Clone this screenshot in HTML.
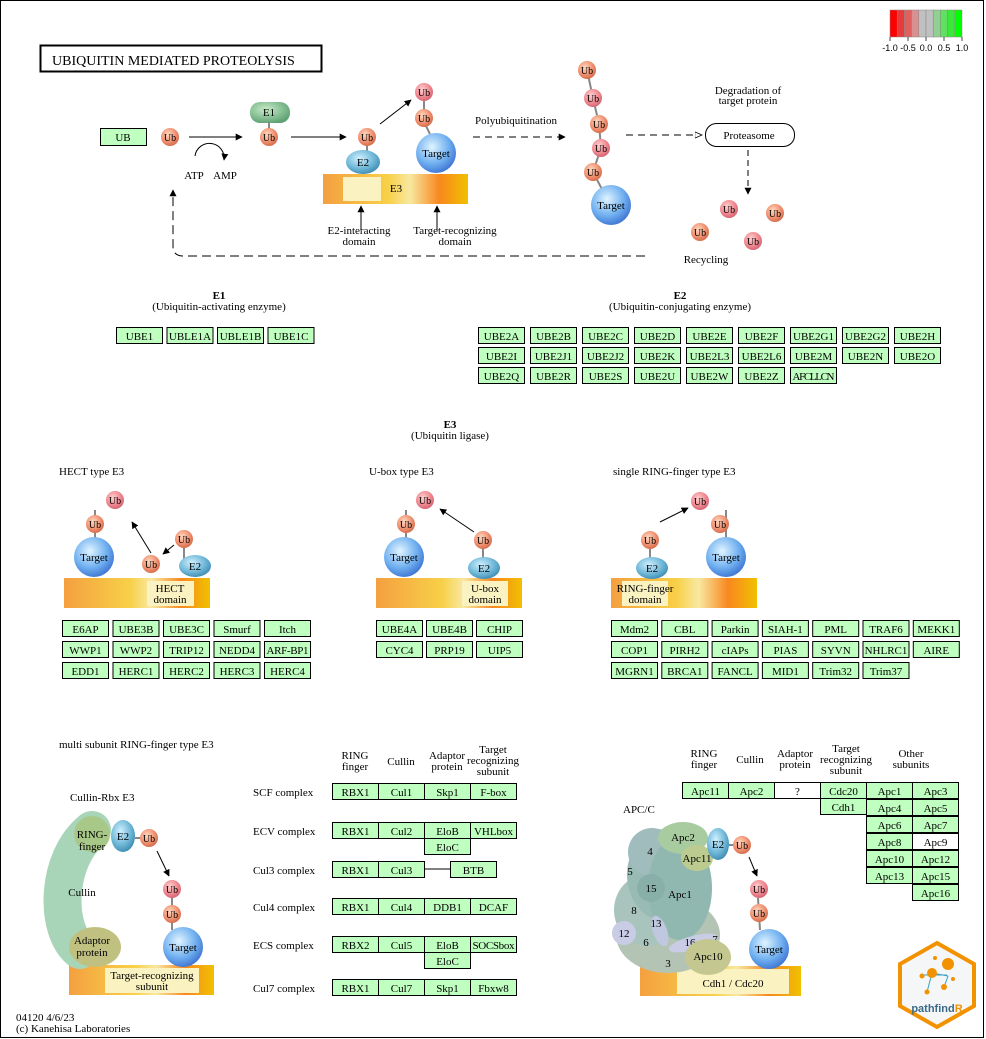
<!DOCTYPE html>
<html><head><meta charset="utf-8"><style>
body{margin:0;background:#fff;}
svg{display:block;font-family:"Liberation Serif",serif;}
</style></head><body>
<svg id="s" width="986" height="1039" viewBox="0 0 986 1039" xmlns="http://www.w3.org/2000/svg">
<defs>
<radialGradient id="gUb" cx="0.4" cy="0.35" r="0.7"><stop offset="0" stop-color="#ffd8c0"/><stop offset="0.6" stop-color="#f09070"/><stop offset="1" stop-color="#d06848"/></radialGradient>
<radialGradient id="gUbR" cx="0.4" cy="0.35" r="0.7"><stop offset="0" stop-color="#ffd0d0"/><stop offset="0.6" stop-color="#f08890"/><stop offset="1" stop-color="#d06070"/></radialGradient>
<radialGradient id="gT" cx="0.4" cy="0.35" r="0.7"><stop offset="0" stop-color="#e0f4ff"/><stop offset="0.6" stop-color="#70b0f0"/><stop offset="1" stop-color="#3a70d0"/></radialGradient>
<radialGradient id="gE2" cx="0.4" cy="0.35" r="0.7"><stop offset="0" stop-color="#d0f0ff"/><stop offset="0.6" stop-color="#70b8d8"/><stop offset="1" stop-color="#3a88b0"/></radialGradient>
<radialGradient id="gE1" cx="0.4" cy="0.35" r="0.7"><stop offset="0" stop-color="#c8ecc8"/><stop offset="1" stop-color="#5aa070"/></radialGradient>
<linearGradient id="gBar" x1="0" x2="1"><stop offset="0" stop-color="#f4a040"/><stop offset="0.45" stop-color="#f8d048"/><stop offset="0.6" stop-color="#f8e8a0"/><stop offset="0.8" stop-color="#f88820"/><stop offset="1" stop-color="#f0c000"/></linearGradient>
<marker id="ar" viewBox="0 0 10 10" refX="9" refY="5" markerWidth="7" markerHeight="7" orient="auto"><path d="M0,0L10,5L0,10z" fill="#000"/></marker>
<marker id="arO" viewBox="0 0 10 10" refX="9" refY="5" markerWidth="8" markerHeight="8" orient="auto"><path d="M0,1L9,5L0,9z" fill="#fff" stroke="#000"/></marker>
</defs>
<rect x="0.5" y="0.5" width="983" height="1037" fill="#fff" stroke="#000"/>
<g id="legend"></g>
<rect x="40.5" y="45.5" width="281" height="26" fill="#fff" stroke="#000" stroke-width="2"/>
<text x="52" y="65" font-size="14">UBIQUITIN MEDIATED PROTEOLYSIS</text>

<g id="top" font-size="11" text-anchor="middle">
<rect x="100.5" y="128.5" width="46" height="17" fill="#bfffbf" stroke="#000"/>
<text x="123" y="141">UB</text>
<line x1="189" y1="137" x2="242" y2="137" stroke="#000" marker-end="url(#ar)"/>
<path d="M195,156 A14,14 0 1 1 224,160" fill="none" stroke="#000" marker-end="url(#ar)"/>
<text x="194" y="179">ATP</text><text x="225" y="179">AMP</text>
<rect x="250" y="102" width="40" height="21" rx="10" fill="url(#gE1)"/>
<text x="269" y="116">E1</text>
<line x1="269" y1="122" x2="269" y2="130" stroke="#888" stroke-width="2"/>
<line x1="291" y1="137" x2="346" y2="137" stroke="#000" marker-end="url(#ar)"/>
<line x1="380" y1="124" x2="411" y2="100" stroke="#000" marker-end="url(#ar)"/>
<rect x="323" y="174" width="145" height="30" fill="url(#gBar)"/>
<rect x="343" y="177" width="38" height="24" fill="#faf2c0" />
<text x="396" y="192">E3</text>
<line x1="367" y1="146" x2="367" y2="156" stroke="#888" stroke-width="2"/>
<ellipse cx="363" cy="162" rx="17" ry="12" fill="url(#gE2)"/><text x="363" y="166">E2</text>
<line x1="424" y1="101" x2="424" y2="110" stroke="#888" stroke-width="2"/>
<line x1="426" y1="126" x2="430" y2="134" stroke="#888" stroke-width="2"/>
<circle cx="436" cy="153" r="20" fill="url(#gT)"/><text x="436" y="157">Target</text>
<line x1="361" y1="230" x2="361" y2="206" stroke="#000" marker-end="url(#ar)"/>
<line x1="437" y1="230" x2="437" y2="206" stroke="#000" marker-end="url(#ar)"/>
<text x="359" y="234">E2-interacting</text><text x="359" y="245">domain</text>
<text x="455" y="234">Target-recognizing</text><text x="455" y="245">domain</text>
<text x="516" y="124">Polyubiquitination</text>
<line x1="473" y1="137" x2="565" y2="137" stroke="#000" stroke-dasharray="7,5" marker-end="url(#ar)"/>
<line x1="626" y1="135" x2="702" y2="135" stroke="#000" stroke-dasharray="7,5" marker-end="url(#arO)"/>
<rect x="705.5" y="123.5" width="89" height="23" rx="11" fill="#fff" stroke="#000"/>
<text x="749" y="139">Proteasome</text>
<text x="748" y="94">Degradation of</text><text x="748" y="104">target protein</text>
<line x1="748" y1="150" x2="748" y2="194" stroke="#000" stroke-dasharray="6,4" marker-end="url(#ar)"/>
<text x="706" y="263">Recycling</text>
<path d="M645,256 L183,256 Q173,256 173,246 L173,190" fill="none" stroke="#000" stroke-dasharray="9,5" marker-end="url(#ar)"/>
<polyline points="587,70 593,98 599,124 601,148 593,172 605,195" fill="none" stroke="#888" stroke-width="2"/>
<circle cx="611" cy="205" r="20" fill="url(#gT)"/><text x="611" y="209">Target</text>
</g>

<g font-size="11" text-anchor="middle">
<text x="219" y="299" font-weight="bold">E1</text><text x="219" y="310">(Ubiquitin-activating enzyme)</text>
<text x="680" y="299" font-weight="bold">E2</text><text x="680" y="310">(Ubiquitin-conjugating enzyme)</text>
<text x="450" y="428" font-weight="bold">E3</text><text x="450" y="439">(Ubiquitin ligase)</text>
</g>
<g font-size="11">
<text x="59" y="475">HECT type E3</text>
<text x="369" y="475">U-box type E3</text>
<text x="613" y="475">single RING-finger type E3</text>
<text x="59" y="748">multi subunit RING-finger type E3</text>
<text x="70" y="801">Cullin-Rbx E3</text>
<text x="623" y="813">APC/C</text>
<text x="16" y="1021">04120 4/6/23</text>
<text x="16" y="1032">(c) Kanehisa Laboratories</text>
</g>
<g font-size="11">
<text x="253" y="796">SCF complex</text><text x="253" y="835">ECV complex</text><text x="253" y="874">Cul3 complex</text>
<text x="253" y="911">Cul4 complex</text><text x="253" y="949">ECS complex</text><text x="253" y="992">Cul7 complex</text>
</g>
<g font-size="11" text-anchor="middle">
<text x="355" y="759">RING</text><text x="355" y="770">finger</text>
<text x="401" y="765">Cullin</text>
<text x="447" y="759">Adaptor</text><text x="447" y="770">protein</text>
<text x="493" y="753">Target</text><text x="493" y="764">recognizing</text><text x="493" y="775">subunit</text>
<text x="704" y="757">RING</text><text x="704" y="768">finger</text>
<text x="750" y="763">Cullin</text>
<text x="795" y="757">Adaptor</text><text x="795" y="768">protein</text>
<text x="846" y="752">Target</text><text x="846" y="763">recognizing</text><text x="846" y="774">subunit</text>
<text x="911" y="757">Other</text><text x="911" y="768">subunits</text>
</g>

<g font-size="11" text-anchor="middle">
<rect x="64" y="578" width="146" height="30" fill="url(#gBar)"/>
<rect x="147" y="581" width="47" height="25" fill="#faf2c0"/><text x="170" y="592">HECT</text><text x="170" y="603">domain</text>
<line x1="95" y1="510" x2="95" y2="540" stroke="#888" stroke-width="2"/>
<circle cx="94" cy="557" r="20" fill="url(#gT)"/><text x="94" y="561">Target</text>
<line x1="151" y1="553" x2="132" y2="522" stroke="#000" marker-end="url(#ar)"/>
<line x1="174" y1="545" x2="163" y2="554" stroke="#000" marker-end="url(#ar)"/>
<line x1="184" y1="545" x2="184" y2="560" stroke="#888" stroke-width="2"/>
<ellipse cx="195" cy="566" rx="16" ry="11" fill="url(#gE2)"/><text x="195" y="570">E2</text>
</g>
<g font-size="11" text-anchor="middle">
<rect x="376" y="578" width="146" height="30" fill="url(#gBar)"/>
<rect x="462" y="581" width="46" height="25" fill="#faf2c0"/><text x="485" y="592">U-box</text><text x="485" y="603">domain</text>
<line x1="406" y1="510" x2="406" y2="540" stroke="#888" stroke-width="2"/>
<circle cx="404" cy="557" r="20" fill="url(#gT)"/><text x="404" y="561">Target</text>
<line x1="474" y1="532" x2="440" y2="509" stroke="#000" marker-end="url(#ar)"/>
<line x1="483" y1="548" x2="483" y2="560" stroke="#888" stroke-width="2"/>
<ellipse cx="484" cy="568" rx="16" ry="11" fill="url(#gE2)"/><text x="484" y="572">E2</text>
</g>
<g font-size="11" text-anchor="middle">
<rect x="611" y="578" width="146" height="30" fill="url(#gBar)"/>
<rect x="622" y="581" width="46" height="25" fill="#faf2c0"/><text x="645" y="592">RING-finger</text><text x="645" y="603">domain</text>
<line x1="660" y1="522" x2="688" y2="508" stroke="#000" marker-end="url(#ar)"/>
<line x1="650" y1="548" x2="650" y2="560" stroke="#888" stroke-width="2"/>
<ellipse cx="652" cy="568" rx="16" ry="11" fill="url(#gE2)"/><text x="652" y="572">E2</text>
<line x1="726" y1="510" x2="726" y2="540" stroke="#888" stroke-width="2"/>
<circle cx="726" cy="557" r="20" fill="url(#gT)"/><text x="726" y="561">Target</text>
</g>
<g font-size="11" text-anchor="middle">
<rect x="69" y="965" width="145" height="30" fill="url(#gBar)"/>
<rect x="105" y="968" width="94" height="25" fill="#faf2c0"/><text x="152" y="979">Target-recognizing</text><text x="152" y="990">subunit</text>
<path d="M92,830 C55,860 55,930 80,950" fill="none" stroke="#a8d4b8" stroke-width="38" stroke-linecap="round"/>
<text x="82" y="896">Cullin</text>
<circle cx="92" cy="834" r="18" fill="#a8c888"/><text x="92" y="838">RING-</text><text x="92" y="850">finger</text>
<ellipse cx="95" cy="947" rx="26" ry="20" fill="#c0c080"/><text x="92" y="944">Adaptor</text><text x="92" y="956">protein</text>
<ellipse cx="123" cy="836" rx="12" ry="16" fill="url(#gE2)"/><text x="123" y="840">E2</text>
<line x1="135" y1="838" x2="142" y2="838" stroke="#888" stroke-width="2"/>
<line x1="157" y1="851" x2="169" y2="876" stroke="#000" marker-end="url(#ar)"/>
<line x1="172" y1="897" x2="172" y2="930" stroke="#888" stroke-width="2"/>
<circle cx="183" cy="947" r="20" fill="url(#gT)"/><text x="183" y="951">Target</text>
</g>
<g font-size="11" text-anchor="middle">
<rect x="640" y="966" width="161" height="30" fill="url(#gBar)"/>
<rect x="677" y="969" width="112" height="25" fill="#faf2c0"/>
<ellipse cx="668" cy="935" rx="52" ry="38" fill="#b4c4b4"/>
<ellipse cx="648" cy="910" rx="34" ry="36" fill="#a8c4bc"/>
<ellipse cx="665" cy="875" rx="38" ry="46" fill="#98bcb4"/>
<ellipse cx="652" cy="852" rx="24" ry="24" fill="#a0bcbc"/>
<ellipse cx="680" cy="888" rx="32" ry="52" fill="#90b8b0"/>
<ellipse cx="683" cy="838" rx="25" ry="16" fill="#a8cca0"/><text x="683" y="841">Apc2</text>
<ellipse cx="697" cy="858" rx="16" ry="13" fill="#bccc90"/><text x="697" y="862">Apc11</text>
<circle cx="651" cy="888" r="14" fill="#88b0a8"/><text x="651" y="892">15</text>
<text x="650" y="855">4</text><text x="630" y="875">5</text><text x="680" y="898">Apc1</text><text x="634" y="914">8</text>
<ellipse cx="660" cy="931" rx="7" ry="16" fill="#c0c8e0" transform="rotate(-20 660 931)"/><text x="656" y="927">13</text>
<circle cx="624" cy="933" r="12" fill="#c8cce4"/><text x="624" y="937">12</text><text x="646" y="946">6</text>
<ellipse cx="693" cy="943" rx="25" ry="7" fill="#c8cce4" transform="rotate(-15 693 943)"/><text x="690" y="946">16</text><text x="715" y="943">7</text>
<ellipse cx="708" cy="957" rx="23" ry="18" fill="#c4c890"/><text x="708" y="960">Apc10</text><text x="668" y="967">3</text>
<text x="733" y="987">Cdh1 / Cdc20</text>
<ellipse cx="718" cy="844" rx="11" ry="16" fill="url(#gE2)"/><text x="718" y="848">E2</text>
<line x1="729" y1="845" x2="735" y2="845" stroke="#888" stroke-width="2"/>
<line x1="749" y1="857" x2="757" y2="876" stroke="#000" marker-end="url(#ar)"/>
<line x1="758" y1="898" x2="760" y2="930" stroke="#888" stroke-width="2"/>
<circle cx="769" cy="949" r="20" fill="url(#gT)"/><text x="769" y="953">Target</text>
</g>
<g id="ubs" font-size="10" text-anchor="middle"></g>
<g id="genes" font-size="11" text-anchor="middle"></g>
<line x1="424" y1="869" x2="450" y2="869" stroke="#000"/>
<g>
<polygon points="937,943 974,964 974,1006 937,1027 900,1006 900,964" fill="#f4f6f8" stroke="#f39200" stroke-width="4"/>
<g fill="#f39200" stroke="#3aa0c8" stroke-width="1">
<line x1="921" y1="975" x2="947" y2="975"/><line x1="932" y1="973" x2="927" y2="992"/><line x1="932" y1="973" x2="948" y2="976"/><line x1="948" y1="976" x2="944" y2="987"/>
<circle cx="948" cy="964" r="6" stroke="none"/><circle cx="932" cy="973" r="5" stroke="none"/><circle cx="944" cy="987" r="3" stroke="none"/><circle cx="922" cy="976" r="2.5" stroke="none"/><circle cx="927" cy="992" r="2.5" stroke="none"/><circle cx="935" cy="958" r="2" stroke="none"/><circle cx="953" cy="979" r="2" stroke="none"/>
</g>
<text x="937" y="1012" font-family="Liberation Sans,sans-serif" font-size="11" font-weight="bold" text-anchor="middle" fill="#3a6a8a">pathfind<tspan fill="#f39200">R</tspan></text>
</g>
</svg>
<script>
const NS='http://www.w3.org/2000/svg';
function mk(parent,tag,attrs){const e=document.createElementNS(NS,tag);for(const k in attrs)e.setAttribute(k,attrs[k]);parent.appendChild(e);return e;}
const legendColors=['#ff0000','#e83a3a','#e06060','#d89090','#c0c0c0','#c0c0c0','#90d090','#60e060','#3ae83a','#00ff00'];
const legendTicks=['-1.0','-0.5','0.0','0.5','1.0'];
const lg=document.getElementById('legend');
legendColors.forEach((c,i)=>{const r=mk(lg,'rect',{x:890+i*7.2,y:10,width:7.2,height:27,fill:c,stroke:'#888','stroke-width':0.5});

});
legendTicks.forEach((t,i)=>{const x=890+i*18;mk(lg,'line',{x1:x,y1:37,x2:x,y2:41,stroke:'#444'});const tx=mk(lg,'text',{x:x,y:51,'font-size':9,'font-family':'Liberation Sans,sans-serif','text-anchor':'middle'});tx.textContent=t;

});
const ubList=[[170,137,0],[269,137,0],[367,137,0],[424,92,1],[424,118,0],
[587,70,0],[593,98,1],[599,124,0],[601,148,1],[593,172,0],
[729,209,1],[775,213,0],[700,232,0],[753,241,1],
[95,524,0],[115,500,1],[151,564,0],[184,539,0],
[406,524,0],[425,500,1],[483,540,0],
[650,540,0],[700,501,1],[720,524,0],
[149,838,0],[172,889,1],[172,914,0],
[742,845,0],[759,889,1],[759,913,0]];
const ug=document.getElementById('ubs');
ubList.forEach(u=>{const c=mk(ug,'circle',{cx:u[0],cy:u[1],r:9,fill:u[2]?'url(#gUbR)':'url(#gUb)'});


const t=mk(ug,'text',{x:u[0],y:u[1]+4});t.textContent='Ub';});
const genes=[];
function grid(rows,x0,y0,dx,dy,w){rows.forEach((r,ri)=>r.forEach((g,ci)=>{if(g)genes.push([g,x0+ci*dx,y0+ri*dy,w,0]);}));}
grid([['UBE1','UBLE1A','UBLE1B','UBE1C']],116,327,50.5,0,46);
grid([['UBE2A','UBE2B','UBE2C','UBE2D','UBE2E','UBE2F','UBE2G1','UBE2G2','UBE2H'],
['UBE2I','UBE2J1','UBE2J2','UBE2K','UBE2L3','UBE2L6','UBE2M','UBE2N','UBE2O'],
['UBE2Q','UBE2R','UBE2S','UBE2U','UBE2W','UBE2Z','AFCLLCN']],478,327,52,20,46);
grid([['E6AP','UBE3B','UBE3C','Smurf','Itch'],['WWP1','WWP2','TRIP12','NEDD4','ARF-BP1'],['EDD1','HERC1','HERC2','HERC3','HERC4']],62,620,50.5,21,46);
grid([['UBE4A','UBE4B','CHIP'],['CYC4','PRP19','UIP5']],376,620,50,21,46);
grid([['Mdm2','CBL','Parkin','SIAH-1','PML','TRAF6','MEKK1'],['COP1','PIRH2','cIAPs','PIAS','SYVN','NHLRC1','AIRE'],['MGRN1','BRCA1','FANCL','MID1','Trim32','Trim37']],611,620,50.3,21,46);
const multi=[[783,['RBX1','Cul1','Skp1','F-box']],[822,['RBX1','Cul2','EloB','VHLbox']],[838,[null,null,'EloC',null]],[861,['RBX1','Cul3',null,null]],
[898,['RBX1','Cul4','DDB1','DCAF']],[936,['RBX2','Cul5','EloB','SOCSbox']],[952,[null,null,'EloC',null]],[979,['RBX1','Cul7','Skp1','Fbxw8']]];
multi.forEach(m=>m[1].forEach((g,i)=>{if(g)genes.push([g,332+i*46,m[0],46,0]);}));
genes.push(['BTB',450,861,46,0]);
genes.push(['Apc11',682,782,46,0],['Apc2',728,782,46,0],['?',774,782,46,1],['Cdc20',820,782,46,0],['Cdh1',820,798,46,0]);
const other=[['Apc1','Apc3'],['Apc4','Apc5'],['Apc6','Apc7'],['Apc8','Apc9'],['Apc10','Apc12'],['Apc13','Apc15'],[null,'Apc16']];
other.forEach((r,ri)=>r.forEach((g,ci)=>{if(g)genes.push([g,866+ci*46,782+ri*17,46,g==='Apc9'?1:0]);}));
const gg=document.getElementById('genes');
genes.forEach(g=>{const h=16;const r=mk(gg,'rect',{x:g[1]+0.5,y:g[2]+0.5,width:g[3],height:h,fill:g[4]?'#fff':'#bfffbf',stroke:'#000'});


const t=mk(gg,'text',{x:g[1]+0.5+g[3]/2,y:g[2]+13});t.textContent=g[0];
if(g[0].length>6)t.setAttribute('textLength',g[3]-4);});
</script>
</body></html>
